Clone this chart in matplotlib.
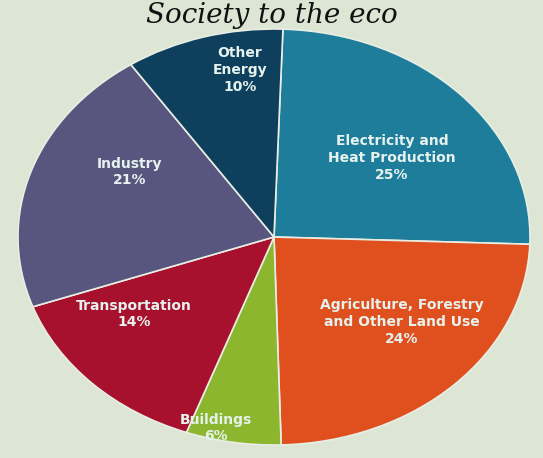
import matplotlib.pyplot as plt

# Global greenhouse gas emissions by economic sector
sectors = ['Electricity and\nHeat Production', 'Agriculture, Forestry\nand Other Land Use',
           'Buildings', 'Transportation', 'Industry', 'Other\nEnergy']
shares = [25, 24, 6, 14, 21, 10]
colors = ['#1f7d9c', '#e0501f', '#8cb62e', '#a8112e', '#58557f', '#0e3f5c']

bg = '#dde6d5'
W, H = 543, 458

fig = plt.figure(figsize=(W / 100, H / 100), dpi=100, facecolor=bg)

# pie photographed at an angle -> squashed ellipse
cx, cy, rx, ry = 274, 237, 256, 208
ax = fig.add_axes([(cx - rx) / W, 1 - (cy + ry) / H, 2 * rx / W, 2 * ry / H])
ax.set_facecolor(bg)
ax.pie(shares, colors=colors, startangle=88, counterclock=False,
       wedgeprops=dict(edgecolor='#e8eee4', linewidth=1.2))
ax.set_aspect('auto')
ax.set_xlim(-1, 1)
ax.set_ylim(-1, 1)
ax.axis('off')

# labels at their spots on the photo (pixel coords)
label_pos = [(392, 158), (402, 322), (216, 428), (134, 314), (130, 172), (240, 70)]
for name, pct, (x, y) in zip(sectors, shares, label_pos):
    fig.text(x / W, 1 - y / H, f'{name}\n{pct}%', ha='center', va='center',
             color='#e6f2ee', fontsize=10, fontweight='bold', linespacing=1.25,
             family='DejaVu Sans')

# handwriting above the chart
fig.text(0.5, 0.995, 'Society to the eco', ha='center', va='top', fontsize=20,
         fontstyle='italic', color='#111111', family='DejaVu Serif')

fig.savefig('out.png', dpi=100, facecolor=bg)
